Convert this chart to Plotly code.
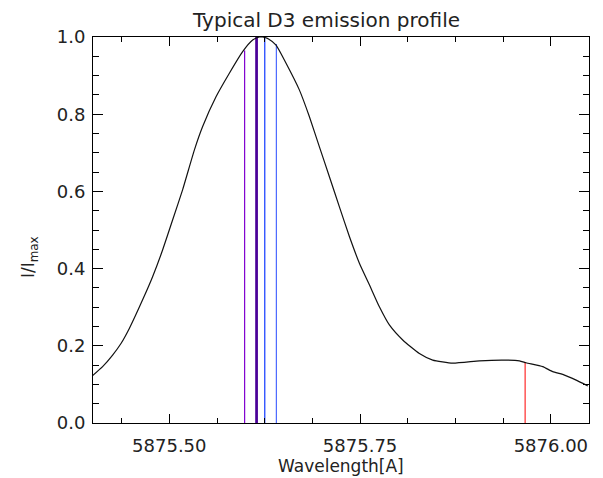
import plotly.graph_objects as go

# Profile
wavelength = [5875.3991, 5875.4126, 5875.4257, 5875.4367, 5875.4476, 5875.4659, 5875.4781,
              5875.4912, 5875.5043, 5875.5174, 5875.5328, 5875.5437, 5875.5612, 5875.5787,
              5875.5961, 5875.6092, 5875.6180, 5875.6223, 5875.6300, 5875.6399, 5875.6530,
              5875.6704, 5875.6835, 5875.6966, 5875.7098, 5875.7229, 5875.7360, 5875.7491,
              5875.7622, 5875.7753, 5875.7884, 5875.8059, 5875.8277, 5875.8452, 5875.8714,
              5875.9064, 5875.9369, 5875.9588, 5875.9676, 5875.9894, 5876.0025, 5876.0156,
              5876.0332, 5876.0484]
intensity = [0.122, 0.146, 0.176, 0.206, 0.245, 0.323, 0.379,
             0.448, 0.526, 0.604, 0.707, 0.768, 0.845, 0.906,
             0.962, 0.992, 1.000, 1.000, 0.995, 0.979, 0.932,
             0.863, 0.794, 0.716, 0.638, 0.560, 0.483, 0.414,
             0.358, 0.301, 0.254, 0.215, 0.180, 0.163, 0.155,
             0.161, 0.163, 0.161, 0.156, 0.146, 0.133, 0.126,
             0.111, 0.096]

# He I D3 fine-structure components
comp_wavelength = [5875.5987, 5875.6139, 5875.6148, 5875.6251, 5875.6403, 5875.9663]
comp_height = [0.965, 1.000, 1.000, 0.998, 0.982, 0.158]
comp_color = ["#8000d0", "#4a0098", "#4a0098", "#1038ff", "#4a68ff", "#ff2a2a"]
comp_width = [1.2, 2.0, 2.0, 1.2, 1.2, 1.2]

fig = go.Figure()
for w, h, c, lw in zip(comp_wavelength, comp_height, comp_color, comp_width):
    fig.add_trace(go.Scatter(x=[w, w], y=[0, h], mode="lines",
                             line=dict(color=c, width=lw), showlegend=False, hoverinfo="skip"))
fig.add_trace(go.Scatter(x=wavelength, y=intensity, mode="lines",
                         line=dict(color="#111111", width=1.2, shape="spline", smoothing=0.5),
                         showlegend=False))

font = "DejaVu Sans"
fig.update_layout(
    width=603, height=478,
    margin=dict(l=85, r=22, t=29, b=63, autoexpand=False),
    paper_bgcolor="white", plot_bgcolor="white",
    font=dict(family=font, size=18, color="#222222"),
    showlegend=False,
)
fig.update_xaxes(
    range=[5875.40, 5876.05], tick0=5875.5, dtick=0.25, tickformat=".2f",
    showgrid=False, zeroline=False, showline=True, linecolor="black", linewidth=1,
    mirror="ticks", ticks="inside", ticklen=9, tickcolor="black", tickwidth=1,
    minor=dict(dtick=0.0625, tick0=5875.5, ticks="inside", ticklen=5, tickcolor="black", showgrid=False),
    tickfont=dict(family=font, size=18, color="#222222"), ticklabelstandoff=6,
)
fig.update_yaxes(
    range=[0, 1.0], dtick=0.2, tickformat=".1f",
    showgrid=False, zeroline=False, showline=True, linecolor="black", linewidth=1,
    mirror="ticks", ticks="inside", ticklen=10, tickcolor="black", tickwidth=1,
    minor=dict(dtick=0.05, ticks="inside", ticklen=6, tickcolor="black", showgrid=False),
    tickfont=dict(family=font, size=18, color="#222222"), ticklabelstandoff=3,
)
fig.add_annotation(text="Typical D3 emission profile", xref="paper", yref="paper",
                   x=0.47, y=1.0, yshift=17, xanchor="center", yanchor="middle",
                   showarrow=False, font=dict(family=font, size=20, color="#222222"))
fig.add_annotation(text="Wavelength[A]", xref="paper", yref="paper",
                   x=0.5, y=0, yshift=-43, xanchor="center", yanchor="middle",
                   showarrow=False, font=dict(family=font, size=17, color="#222222"))
fig.add_annotation(text="I/I<sub>max</sub>", xref="paper", yref="paper",
                   x=0, xshift=-64, y=0.43, xanchor="center", yanchor="middle", textangle=-90,
                   showarrow=False, font=dict(family=font, size=17, color="#222222"))
fig.write_html("out.html")
